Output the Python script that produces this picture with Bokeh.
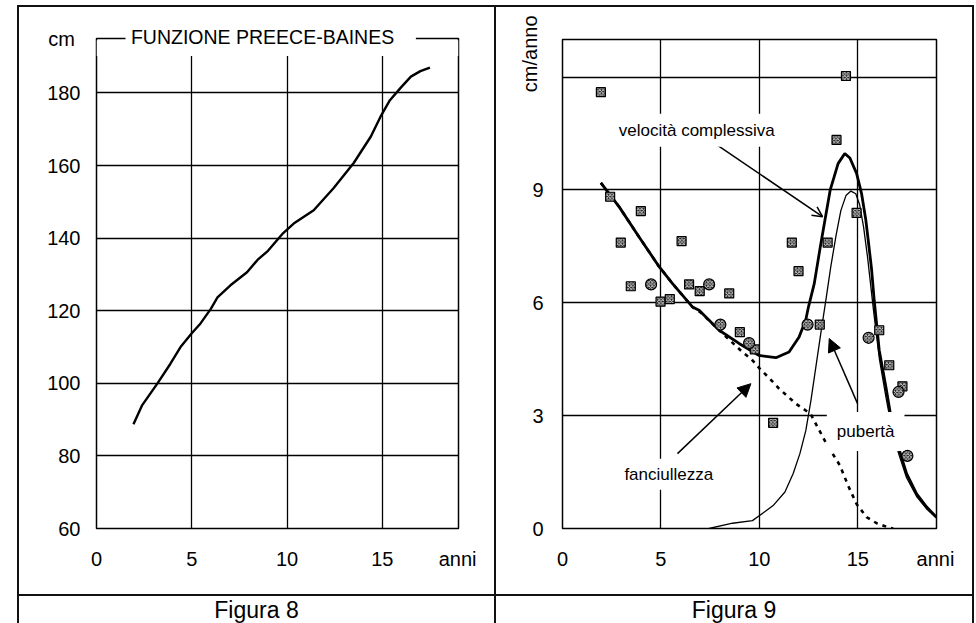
from bokeh.plotting import figure
from bokeh.layouts import row, column
from bokeh.models import (Label, BoxAnnotation, Arrow, OpenHead, NormalHead,
                          FixedTicker, Title, Div, Spacer)
from bokeh.embed import file_html
from bokeh.resources import INLINE

FONT = "Liberation Sans"
NBSP = "\u00a0"

# ---- Figura 8: Preece-Baines height curve ----
age_h = [1.94, 2.4, 3.2, 3.88, 4.41, 5.0, 5.46, 6.0, 6.35, 7.03, 7.9, 8.45,
         9.0, 9.8, 10.35, 11.4, 12.45, 13.5, 14.4, 14.9, 15.4, 15.96, 16.5,
         17.0, 17.5]
height_cm = [88.7, 94.0, 100.0, 105.4, 110.0, 113.8, 116.5, 120.5, 123.7, 127.0,
             130.6, 134.0, 136.5, 141.4, 144.0, 147.7, 153.8, 160.7, 168.0,
             173.4, 178.0, 181.4, 184.5, 186.0, 187.0]
h_xticks = [0, 5, 10, 15]
h_yticks = [60, 80, 100, 120, 140, 160, 180]

# ---- Figura 9: growth velocity ----
age_tot = [1.95, 2.88, 3.89, 4.91, 5.59, 6.6, 6.94, 7.96, 8.97, 9.99, 10.84,
           11.51, 12.02, 12.36, 12.5, 12.79, 13.1, 13.4, 13.6, 13.8, 14.0,
           14.34, 14.6, 14.94, 15.19, 15.41, 15.53, 15.7, 15.83, 16.09, 16.43,
           16.77, 17.1, 17.48, 17.99, 18.5, 19.0]
vel_tot = [9.19, 8.55, 7.75, 6.96, 6.51, 5.89, 5.8, 5.27, 4.92, 4.6, 4.54,
           4.69, 5.09, 5.55, 5.9, 6.51, 7.5, 8.4, 9.0, 9.35, 9.7,
           9.97, 9.85, 9.44, 8.91, 8.2, 7.67, 6.9, 6.1, 4.74, 3.76,
           2.7, 2.1, 1.46, 0.92, 0.57, 0.3]

age_pub = [7.45, 8.64, 9.65, 10.03, 10.7, 11.3, 11.72, 12.06, 12.36, 12.62,
           12.87, 13.12, 13.38, 13.63, 13.9, 14.14, 14.4, 14.65, 14.9, 15.1,
           15.3, 15.5, 15.8, 16.1, 16.43, 16.77, 17.1, 17.48, 17.99, 18.5, 19.0]
vel_pub = [0.0, 0.14, 0.21, 0.35, 0.61, 0.97, 1.46, 1.99, 2.6, 3.4,
           4.29, 5.18, 6.07, 6.96, 7.8, 8.45, 8.85, 8.97, 8.9, 8.6,
           8.0, 7.2, 5.8, 4.5, 3.5, 2.55, 1.95, 1.35, 0.85, 0.52, 0.28]

age_inf = [1.95, 2.88, 3.89, 4.91, 5.59, 6.6, 7.0, 8.0, 9.14, 9.6, 10.0, 10.5,
           11.0, 11.85, 12.6, 13.41, 14.09, 14.51, 14.94, 15.45, 15.96, 16.55,
           16.8]
vel_inf = [9.19, 8.55, 7.75, 6.96, 6.51, 5.89, 5.75, 5.25, 4.69, 4.5, 4.26, 4.0,
           3.72, 3.32, 3.05, 2.25, 1.68, 1.14, 0.65, 0.3, 0.14, 0.03,
           0.0]

sq_age = [1.95, 2.42, 2.96, 3.47, 3.98, 4.98, 5.45, 6.05, 6.43, 6.97, 8.47,
          9.01, 9.77, 10.7, 11.65, 11.99, 13.07, 13.47, 13.92, 14.4, 14.94,
          16.09, 16.6, 17.27]
sq_vel = [11.6, 8.82, 7.6, 6.44, 8.44, 6.03, 6.1, 7.64, 6.49, 6.31, 6.25,
          5.22, 4.76, 2.81, 7.6, 6.84, 5.42, 7.6, 10.33, 12.03, 8.39,
          5.27, 4.34, 3.78]
ci_age = [4.5, 7.45, 8.02, 9.48, 12.45, 15.55, 17.07, 17.52]
ci_vel = [6.49, 6.49, 5.42, 4.93, 5.42, 5.07, 3.63, 1.93]

v_xticks = [0, 5, 10, 15]
v_yticks = [0, 3, 6, 9]
v_ygrid = [3, 6, 9, 12]

ANNI_AT = 18.95   # position of the "anni" caption on the age axis


def base_style(p):
    p.background_fill_color = "white"
    p.border_fill_color = "white"
    p.outline_line_color = "black"
    p.outline_line_width = 1.5
    for ax in (p.xaxis, p.yaxis):
        ax.axis_line_color = None
        ax.major_tick_line_color = None
        ax.minor_tick_line_color = None
        ax.major_tick_out = 0
        ax.major_tick_in = 0
        ax.minor_tick_out = 0
        ax.major_label_text_font = FONT
        ax.major_label_text_font_size = "20px"
        ax.major_label_text_color = "black"
    p.xaxis.major_label_standoff = 19
    for g in (p.xgrid, p.ygrid):
        g.grid_line_color = "black"
        g.grid_line_width = 1.3


def rule(w, h):
    return Div(text="", width=w, height=h, margin=0,
               styles={"background-color": "#111111"})


def caption(text, w):
    return Div(text=text, width=w, height=27, margin=0,
               styles={"font-family": FONT, "font-size": "23px",
                       "text-align": "center", "line-height": "29px",
                       "color": "black"})


# ---------------- Figura 8 ----------------
p1 = figure(width=475, height=587, x_range=(0, 19), y_range=(60, 195),
            output_backend="svg", toolbar_location=None,
            min_border_left=77, min_border_right=36,
            min_border_top=31, min_border_bottom=66,
            title=Title(text=NBSP + "FUNZIONE PREECE-BAINES" + NBSP * 4,
                        align="left", offset=29, standoff=-20,
                        vertical_align="middle", text_font=FONT,
                        text_font_size="19.5px", text_font_style="normal",
                        text_color="black", background_fill_color="white",
                        background_fill_alpha=1))
base_style(p1)
p1.xaxis.ticker = FixedTicker(ticks=h_xticks + [ANNI_AT])
p1.xaxis.major_label_overrides = {ANNI_AT: "anni"}
p1.yaxis.ticker = FixedTicker(ticks=h_yticks + [195])
p1.yaxis.major_label_overrides = {195: "cm" + NBSP}
p1.yaxis.major_label_standoff = 16
p1.xgrid.ticker = FixedTicker(ticks=h_xticks[1:])
p1.ygrid.ticker = FixedTicker(ticks=h_yticks[1:])

p1.line(age_h, height_cm, line_color="black", line_width=2.4)

# blank band under the title
p1.add_layout(BoxAnnotation(bottom=190.2, top=194.5, fill_color="white",
                            fill_alpha=1, line_color=None))

# ---------------- Figura 9 ----------------
p2 = figure(width=476, height=587, x_range=(0, 19), y_range=(0, 13),
            output_backend="svg", toolbar_location=None,
            min_border_left=66, min_border_right=36,
            min_border_top=32, min_border_bottom=66)
base_style(p2)
p2.xaxis.ticker = FixedTicker(ticks=v_xticks + [ANNI_AT])
p2.xaxis.major_label_overrides = {ANNI_AT: "anni"}
p2.yaxis.ticker = FixedTicker(ticks=v_yticks)
p2.yaxis.major_label_standoff = 19
p2.xgrid.ticker = FixedTicker(ticks=v_xticks[1:])
p2.ygrid.ticker = FixedTicker(ticks=v_ygrid)
p2.add_layout(Title(text="cm/anno", align="right", offset=-24, standoff=-24,
                    vertical_align="middle", text_font=FONT,
                    text_font_size="20px", text_font_style="normal",
                    text_color="black"), "left")

p2.line(age_inf, vel_inf, line_color="black", line_width=2.6, line_dash="4 5")
p2.line(age_pub, vel_pub, line_color="black", line_width=1.3)
p2.line(age_tot, vel_tot, line_color="black", line_width=2.8)

p2.scatter(sq_age, sq_vel, marker="square", size=9, fill_color="#1e1e1e",
           line_color="black", line_width=1.2, hatch_pattern="x",
           hatch_color="#d8d8d8", hatch_scale=3.5, hatch_weight=0.9)
p2.scatter(ci_age, ci_vel, marker="circle", size=11, fill_color="#1e1e1e",
           line_color="black", line_width=1.2, hatch_pattern="x",
           hatch_color="#d8d8d8", hatch_scale=3.5, hatch_weight=0.9)

p2.add_layout(Arrow(end=OpenHead(size=10, line_width=1.5, line_color="black"),
                    x_start=7.79, y_start=10.22, x_end=13.21, y_end=8.29,
                    line_width=1.5, line_color="black"))
p2.add_layout(Arrow(end=NormalHead(size=13, fill_color="black", line_color="black"),
                    x_start=5.84, y_start=1.99, x_end=9.57, y_end=3.85,
                    line_width=1.5, line_color="black"))
p2.add_layout(Arrow(end=NormalHead(size=13, fill_color="black", line_color="black"),
                    x_start=14.99, y_start=3.32, x_end=13.55, y_end=5.05,
                    line_width=1.5, line_color="black"))

for lx, ly, txt, pad in [(6.82, 10.59, "velocità complessiva", 7),
                         (5.4, 1.44, "fanciullezza", 6),
                         (15.4, 2.58, "pubertà", 10)]:
    p2.add_layout(Label(x=lx, y=ly, text=txt, text_font=FONT,
                        text_font_size="17px", text_color="black",
                        text_align="center", text_baseline="middle",
                        background_fill_color="white", background_fill_alpha=1,
                        padding=pad))

# ---------------- page: ruled frame with captions ----------------
left_col = column(rule(475, 2), p1, rule(475, 2), caption("Figura 8", 475),
                  spacing=0)
right_col = column(rule(476, 2), p2, rule(476, 2), caption("Figura 9", 476),
                   spacing=0)
body = row(Spacer(width=17, height=618), rule(2, 618), left_col, rule(2, 618),
           right_col, rule(2, 618), spacing=0)
page = column(Spacer(width=974, height=5), body, spacing=0)

open("out.html", "w").write(file_html(page, INLINE))
